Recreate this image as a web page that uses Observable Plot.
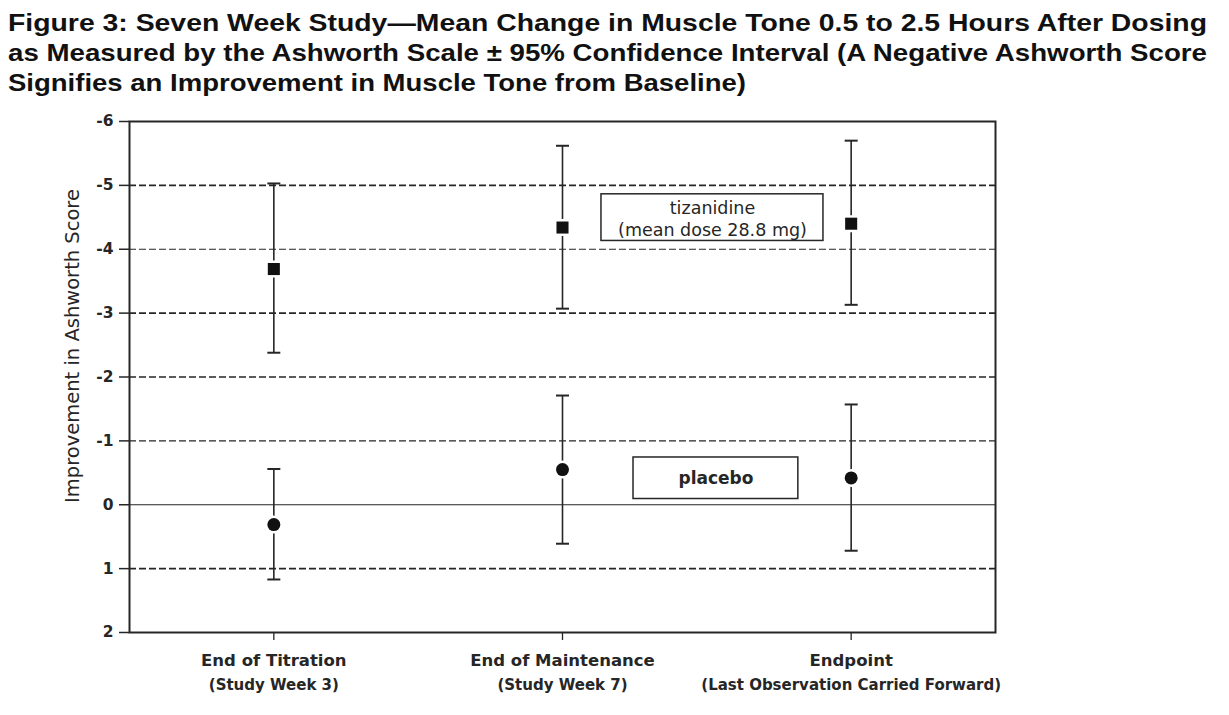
<!DOCTYPE html>
<html><head><meta charset="utf-8">
<script src="https://cdn.jsdelivr.net/npm/d3@7"></script>
<script src="https://cdn.jsdelivr.net/npm/@observablehq/plot@0.6"></script>
<style>
body{margin:0;background:#fff;font-family:"Liberation Sans",Arial,sans-serif;}
#title{position:absolute;left:8px;top:8px;font-weight:bold;font-size:24px;line-height:30px;color:#111;}
#title span{display:inline-block;white-space:nowrap;transform-origin:0 0;}
#chart{position:absolute;left:0;top:105px;}
</style></head>
<body>
<div id="title">
<span class="j">Figure 3: Seven Week Study—Mean Change in Muscle Tone 0.5 to 2.5 Hours After Dosing</span><br>
<span class="j">as Measured by the Ashworth Scale ± 95% Confidence Interval (A Negative Ashworth Score</span><br>
<span>Signifies an Improvement in Muscle Tone from Baseline)</span>
</div>
<div id="chart"></div>
<script>
// ---- data ----
const categories = ["End of Titration", "End of Maintenance", "Endpoint"];
const subLabels = ["(Study Week 3)", "(Study Week 7)", "(Last Observation Carried Forward)"];
const tizMean = [-3.69, -4.34, -4.40];
const tizLow  = [-5.03, -5.62, -5.70];
const tizHigh = [-2.38, -3.07, -3.13];
const plaMean = [0.31, -0.55, -0.42];
const plaLow  = [-0.56, -1.71, -1.57];
const plaHigh = [1.17, 0.61, 0.72];
const yTicks = [-6, -5, -4, -3, -2, -1, 0, 1, 2];
const dashedMajor = [-5, -3, -2, 1];
const dashedMinor = [-4, -1];
// annotation boxes (data space)
const tizBox = {x1: 1.635, x2: 2.404, y1: -4.86, y2: -4.13, text: "tizanidine\n(mean dose 28.8 mg)"};
const plaBox = {x1: 1.746, x2: 2.317, y1: -0.74, y2: -0.09, text: "placebo"};

// title: stretch lines to the reference width
const spans = document.querySelectorAll("#title span");
const fullW = 1199;
const s0 = fullW / spans[0].getBoundingClientRect().width;
spans.forEach((s, i) => {
  const w = s.getBoundingClientRect().width;
  const k = s.classList.contains("j") ? fullW / w : s0 * 0.97;
  s.style.transform = `scaleX(${k})`;
});

const rows = categories.map((c, i) => ({
  cat: c, sub: subLabels[i], pos: i + 0.5,
  tm: tizMean[i], tl: tizLow[i], th: tizHigh[i],
  pm: plaMean[i], pl: plaLow[i], ph: plaHigh[i]
}));

const cap = {draw(ctx) { ctx.moveTo(-6.5, 0); ctx.lineTo(6.5, 0); }};
const ink = "#262626";
const dv = '"DejaVu Sans", Verdana, sans-serif';

const chart = Plot.plot({
  width: 1229, height: 602,
  marginLeft: 129, marginRight: 234, marginTop: 16, marginBottom: 75,
  x: {domain: [0, 3], axis: null},
  y: {domain: [-6, 2], reverse: true, axis: null},
  style: {fontFamily: dv, background: "white", overflow: "visible", color: ink},
  marks: [
    Plot.ruleY(dashedMajor, {stroke: ink, strokeWidth: 1.6, strokeDasharray: "7,3"}),
    Plot.ruleY(dashedMinor, {stroke: ink, strokeWidth: 1.1, strokeDasharray: "7,3"}),
    Plot.ruleY([0], {stroke: ink, strokeWidth: 1.2}),
    Plot.axisY({ticks: yTicks, tickSize: 10, tickFormat: () => "", label: null, stroke: ink, strokeWidth: 1.5}),
    Plot.text(yTicks, {y: d => d, frameAnchor: "left", dx: -16, textAnchor: "end", text: d => String(d), fontSize: 15.5, fontWeight: "bold", fill: ink}),
    Plot.axisX({ticks: rows.map(d => d.pos), tickSize: 8, tickFormat: () => "", label: null, stroke: ink, strokeWidth: 1.3}),
    Plot.text(rows, {x: "pos", frameAnchor: "bottom", dy: 33, text: "cat", fontSize: 16.5, fontWeight: "bold", fill: ink}),
    Plot.text(rows, {x: "pos", frameAnchor: "bottom", dy: 57, text: "sub", fontSize: 15, fontWeight: "bold", fill: ink}),
    Plot.text(["Improvement in Ashworth Score"], {frameAnchor: "left", textAnchor: "middle", dx: -57, dy: -31, rotate: -90, fontSize: 19.5, fill: ink}),
    // error bars
    Plot.ruleX(rows, {x: "pos", y1: "tl", y2: "th", stroke: ink, strokeWidth: 1.6}),
    Plot.ruleX(rows, {x: "pos", y1: "pl", y2: "ph", stroke: ink, strokeWidth: 1.6}),
    Plot.dot(rows, {x: "pos", y: "tl", symbol: cap, fill: "none", stroke: ink, strokeWidth: 2}),
    Plot.dot(rows, {x: "pos", y: "th", symbol: cap, fill: "none", stroke: ink, strokeWidth: 2}),
    Plot.dot(rows, {x: "pos", y: "pl", symbol: cap, fill: "none", stroke: ink, strokeWidth: 2}),
    Plot.dot(rows, {x: "pos", y: "ph", symbol: cap, fill: "none", stroke: ink, strokeWidth: 2}),
    // markers
    Plot.dot(rows, {x: "pos", y: "tm", symbol: "square", r: 6.8, fill: "#111", stroke: "white", strokeWidth: 5, paintOrder: "stroke"}),
    Plot.dot(rows, {x: "pos", y: "pm", symbol: "circle", r: 6.5, fill: "#111", stroke: "white", strokeWidth: 5, paintOrder: "stroke"}),
    // legend boxes
    Plot.rect([tizBox, plaBox], {x1: "x1", x2: "x2", y1: "y1", y2: "y2", fill: "white", stroke: ink, strokeWidth: 1.5}),
    Plot.text([tizBox], {x: d => (d.x1 + d.x2) / 2, y: d => (d.y1 + d.y2) / 2, text: "text", fontSize: 17.5, lineHeight: 1.26, fill: ink, letterSpacing: "1.8px"}),
    Plot.text([plaBox], {x: d => (d.x1 + d.x2) / 2, y: d => (d.y1 + d.y2) / 2, text: "text", fontSize: 17, fontWeight: "bold", fill: ink}),
    Plot.frame({stroke: ink, strokeWidth: 2})
  ]
});
document.getElementById("chart").appendChild(chart);
</script>
</body></html>
